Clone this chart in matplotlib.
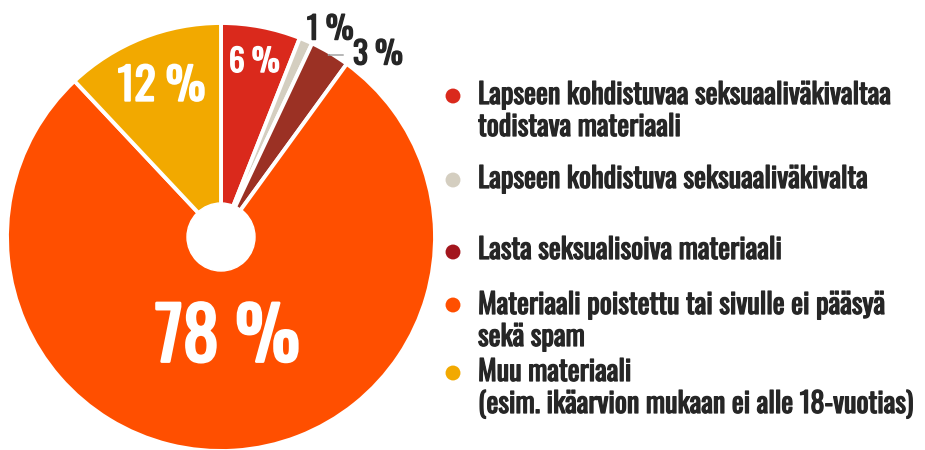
import numpy as np
import matplotlib
matplotlib.use("Agg")
import matplotlib.pyplot as plt
import matplotlib.patheffects as pe

# --- données ---
shares = [6, 1, 3, 78, 12]
labels = [
    "Lapseen kohdistuvaa seksuaaliväkivaltaa\ntodistava materiaali",
    "Lapseen kohdistuva seksuaaliväkivalta",
    "Lasta seksualisoiva materiaali",
    "Materiaali poistettu tai sivulle ei pääsyä\nsekä spam",
    "Muu materiaali\n(esim. ikäarvion mukaan ei alle 18-vuotias)",
]
slice_colors = ["#DA291C", "#D4CEC0", "#9B3124", "#FF4F00", "#F2A900"]
dot_colors = ["#DA291C", "#D4CEC0", "#A3161D", "#FF4F00", "#F2A900"]

plt.rcParams["font.family"] = ["Oswald", "DejaVu Sans"]
DARK = "#262626"
W, H = 925, 450


def P(x, y):
    """pixels (origine en haut à gauche) -> coordonnées de l'axe"""
    return x, H - y


def bold(color, lw=1.0):
    # Oswald n'est dispo qu'en 400 : on épaissit le trait
    return [pe.withStroke(linewidth=lw, foreground=color)]


fig = plt.figure(figsize=(W / 100, H / 100), dpi=100)
ax = fig.add_axes([0, 0, 1, 1])

cx, cy = P(221, 237)
R = 214
ax.pie(shares, colors=slice_colors, startangle=90, counterclock=False,
       center=(cx, cy), radius=R, frame=True,
       wedgeprops=dict(edgecolor="white", linewidth=2.8, joinstyle="round"))
ax.set_xlim(0, W); ax.set_ylim(0, H)
ax.set_aspect("equal"); ax.axis("off")
ax.add_patch(plt.Circle((cx, cy), 34, color="white", zorder=5))

# étiquettes : angle médian de chaque part (sens horaire depuis midi)
cum = np.cumsum([0] + shares)
mid = [np.deg2rad((cum[i] + shares[i] / 2) * 3.6) for i in range(len(shares))]


def polar(i, r):
    return cx + r * np.sin(mid[i]), cy + r * np.cos(mid[i])


inside = {0: (0.83, 22.5, 1.0), 3: (0.48, 52, 2.0), 4: (0.755, 32, 1.3)}
for i, (frac, fs, lw) in inside.items():
    x, y = polar(i, frac * R)
    ax.text(x, y, f"{shares[i]} %", color="white", fontsize=fs,
            ha="center", va="center", zorder=6, path_effects=bold("white", lw))

x, y = polar(1, 1.12 * R)
ax.text(x + 14, y - 13, f"{shares[1]} %", color=DARK, fontsize=22.5,
        ha="center", va="center", path_effects=bold(DARK))
ax.annotate(f"{shares[2]} %", xy=polar(2, R - 2), xytext=P(353, 55),
            color=DARK, fontsize=22.5, ha="left", va="center",
            path_effects=bold(DARK),
            arrowprops=dict(arrowstyle="-", color="#9a9a9a", lw=1,
                            shrinkA=5, shrinkB=0,
                            connectionstyle="angle,angleA=0,angleB=35,rad=0"))

# légende manuelle
dot_y = [96, 180, 252, 305, 373]
base_y = [104, 188, 259, 314, 381]
for lab, c, yd, yb in zip(labels, dot_colors, dot_y, base_y):
    ax.scatter(*P(453, yd), s=115, color=c, edgecolor="none")
    for k, line in enumerate(lab.split("\n")):
        ax.text(*P(478, yb + 32 * k), line, color=DARK, fontsize=20.4,
                ha="left", va="baseline", path_effects=bold(DARK, 0.9))

fig.savefig("out.png", dpi=100)
